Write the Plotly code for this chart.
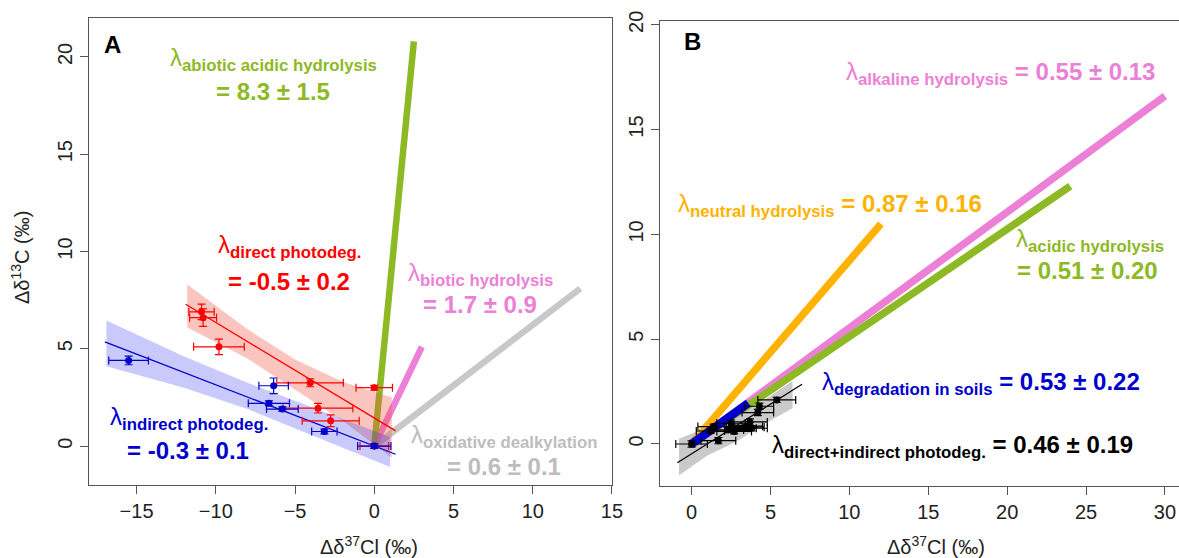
import plotly.graph_objects as go

# ---------------- Panel A data ----------------
red_x = [-10.9, -10.8, -9.8, -4.05, 0.0, -3.55, -2.75, 0.0]
red_y = [6.9, 6.6, 5.1, 3.25, 3.0, 1.95, 1.3, 0.0]
red_xerr = [0.8, 0.85, 1.6, 2.1, 1.15, 2.2, 1.8, 0.9]
red_yerr = [0.4, 0.45, 0.4, 0.2, 0.12, 0.25, 0.3, 0.1]

blue_x = [-15.5, -6.35, -6.65, -5.8, -3.15, 0.0]
blue_y = [4.4, 3.1, 2.2, 1.9, 0.75, 0.0]
blue_xerr = [1.25, 0.93, 1.3, 1.0, 0.8, 1.05]
blue_yerr = [0.22, 0.4, 0.12, 0.12, 0.12, 0.12]

red_fit_x = [-11.9, 1.35]
red_fit_y = [7.29, 0.78]
blue_fit_x = [-17.0, 1.35]
blue_fit_y = [5.35, -0.42]

red_band_x = [-11.8, -8.0, -5.0, -2.0, 1.1]
red_band_hi = [8.3, 6.0, 4.45, 3.3, 2.5]
red_band_lo = [6.1, 4.5, 2.9, 1.3, -0.6]

blue_band_x = [-16.9, -12.0, -8.0, -4.0, 1.0]
blue_band_hi = [6.45, 4.6, 3.25, 2.0, 0.47]
blue_band_lo = [4.1, 3.0, 1.9, 0.6, -1.07]

a_green_x = [0, 2.5]
a_green_y = [0, 20.8]
a_pink_x = [0, 3.0]
a_pink_y = [0, 5.1]
a_gray_x = [0, 13.0]
a_gray_y = [0, 8.1]

# ---------------- Panel B data ----------------
b_pts_x = [0.0, 1.2, 1.4, 1.7, 2.3, 2.5, 2.7, 3.1, 3.4, 3.6, 3.8, 3.7, 4.2, 4.3, 5.4]
b_pts_y = [0.0, 0.62, 0.83, 0.16, 0.67, 0.99, 0.6, 0.75, 0.8, 0.85, 0.75, 1.05, 1.5, 1.8, 2.1]
b_pts_xerr = [1.0, 0.9, 1.0, 1.1, 1.0, 0.9, 1.1, 1.0, 1.2, 0.9, 1.0, 1.1, 1.0, 0.9, 1.2]
b_pts_yerr = [0.15, 0.12, 0.12, 0.15, 0.12, 0.15, 0.12, 0.12, 0.15, 0.12, 0.12, 0.15, 0.15, 0.15, 0.12]

b_fit_x = [-0.9, 7.0]
b_fit_y = [-0.9, 2.85]
b_band_x = [-0.8, 1.0, 2.8, 4.6, 6.4]
b_band_hi = [0.25, 0.8, 1.35, 2.1, 3.0]
b_band_lo = [-1.5, -0.55, 0.1, 0.95, 1.7]

b_orange_x = [0, 12.0]
b_orange_y = [0, 10.5]
b_pink_x = [0, 30.0]
b_pink_y = [0, 16.6]
b_green_x = [0, 24.0]
b_green_y = [0, 12.3]
b_blue_x = [0, 3.6]
b_blue_y = [0, 1.95]

# ---------------- colours ----------------
GREEN = "#8DB924"
PINK = "#EC7FD6"
GRAY = "#C8C8C8"
GRAYTXT = "#BDBDBD"
ORANGE = "#FFB300"
RED = "#FF0000"
BLUE = "#0000CC"
FONT = "Liberation Sans, Arial, Helvetica, sans-serif"

fig = go.Figure()


def thick(x, y, color, width, xa="x", ya="y"):
    fig.add_trace(go.Scatter(x=x, y=y, mode="lines", xaxis=xa, yaxis=ya,
                             line=dict(color=color, width=width),
                             showlegend=False, hoverinfo="skip"))


def band(x, hi, lo, fill, xa="x", ya="y"):
    fig.add_trace(go.Scatter(x=list(x) + list(x)[::-1], y=list(hi) + list(lo)[::-1],
                             mode="lines", fill="toself", fillcolor=fill,
                             line=dict(width=0, color="rgba(0,0,0,0)"),
                             xaxis=xa, yaxis=ya, showlegend=False, hoverinfo="skip"))


def points(x, y, xe, ye, color, xa="x", ya="y"):
    fig.add_trace(go.Scatter(x=x, y=y, mode="markers", xaxis=xa, yaxis=ya,
                             marker=dict(color=color, size=7),
                             error_x=dict(type="data", array=xe, color=color, thickness=1.2, width=4),
                             error_y=dict(type="data", array=ye, color=color, thickness=1.2, width=4),
                             showlegend=False))


# Panel A
thick(a_gray_x, a_gray_y, GRAY, 6.5)
thick(a_pink_x, a_pink_y, PINK, 6.5)
thick(a_green_x, a_green_y, GREEN, 6.5)
band(red_band_x, red_band_hi, red_band_lo, "rgba(240,90,70,0.35)")
band(blue_band_x, blue_band_hi, blue_band_lo, "rgba(40,40,240,0.25)")
thick(red_fit_x, red_fit_y, RED, 1.3)
thick(blue_fit_x, blue_fit_y, BLUE, 1.3)
points(red_x, red_y, red_xerr, red_yerr, RED)
points(blue_x, blue_y, blue_xerr, blue_yerr, BLUE)

# Panel B
band(b_band_x, b_band_hi, b_band_lo, "rgba(150,150,150,0.5)", "x2", "y2")
thick(b_orange_x, b_orange_y, ORANGE, 7.5, "x2", "y2")
thick(b_pink_x, b_pink_y, PINK, 7.5, "x2", "y2")
thick(b_green_x, b_green_y, GREEN, 7.5, "x2", "y2")
thick(b_blue_x, b_blue_y, BLUE, 8.5, "x2", "y2")
thick(b_fit_x, b_fit_y, "#000000", 1.2, "x2", "y2")
points(b_pts_x, b_pts_y, b_pts_xerr, b_pts_yerr, "#000000", "x2", "y2")

axis_common = dict(showline=True, linecolor="#555555", linewidth=1, ticks="outside",
                   ticklen=8, tickcolor="#555555", showgrid=False, zeroline=False,
                   automargin=False,
                   tickfont=dict(family=FONT, size=20, color="#222222"))

fig.update_layout(
    width=1179, height=558,
    margin=dict(l=0, r=0, t=0, b=0),
    paper_bgcolor="white", plot_bgcolor="white",
    font=dict(family=FONT),
    xaxis=dict(domain=[0.07549, 0.51908], range=[-18, 15], tickvals=[-15, -10, -5, 0, 5, 10, 15],
               mirror=True, anchor="y", **axis_common),
    yaxis=dict(domain=[0.13082, 0.96774], range=[-2, 22], tickvals=[0, 5, 10, 15, 20],
               mirror=True, anchor="x", tickangle=-90, **axis_common),
    xaxis2=dict(domain=[0.5598, 1.0], range=[-2, 30.89], tickvals=[0, 5, 10, 15, 20, 25, 30],
                mirror=True, anchor="y2", **axis_common),
    yaxis2=dict(domain=[0.12921, 0.96308], range=[-2, 20.2], tickvals=[0, 5, 10, 15, 20],
                mirror=False, anchor="x2", tickangle=-90, **axis_common),
)

ann = []


def txt(x, y, text, color, size=24, xa="x", ya="y", xanchor="center", yanchor="middle", angle=0):
    ann.append(dict(x=x, y=y, xref=xa, yref=ya, text=text, showarrow=False,
                    font=dict(family=FONT, size=size, color=color),
                    xanchor=xanchor, yanchor=yanchor, textangle=angle))


# Panel A labels
txt(-16.5, 20.65, "<b>A</b>", "#000000", 24)
txt(-6.33, 19.85, "λ<sub><b>abiotic acidic hydrolysis</b></sub>", GREEN)
txt(-6.39, 18.24, "<b>= 8.3 ± 1.5</b>", GREEN)
txt(-5.38, 10.25, "λ<sub><b>direct photodeg.</b></sub>", RED)
txt(-5.41, 8.47, "<b>= -0.5 ± 0.2</b>", RED)
txt(6.70, 8.80, "λ<sub><b>biotic hydrolysis</b></sub>", PINK)
txt(6.67, 7.28, "<b>= 1.7 ± 0.9</b>", PINK)
txt(-11.69, 1.40, "λ<sub><b>indirect photodeg.</b></sub>", BLUE)
txt(-11.75, -0.22, "<b>= -0.3 ± 0.1</b>", BLUE)
txt(8.18, 0.48, "λ<sub><b>oxidative dealkylation</b></sub>", GRAYTXT)
txt(8.18, -1.04, "<b>= 0.6 ± 0.1</b>", GRAYTXT)

# Panel B labels
txt(0.03, 19.18, "<b>B</b>", "#000000", 24, "x2", "y2")
txt(9.64, 17.7, "λ<sub><b>alkaline hydrolysis</b></sub> <b>= 0.55 ± 0.13</b>", PINK, 24, "x2", "y2", "left")
txt(-1.0, 11.36, "λ<sub><b>neutral hydrolysis</b></sub> <b>= 0.87 ± 0.16</b>", ORANGE, 24, "x2", "y2", "left")
txt(20.41, 9.7, "λ<sub><b>acidic hydrolysis</b></sub>", GREEN, 24, "x2", "y2", "left")
txt(20.52, 8.28, "<b>= 0.51 ± 0.20</b>", GREEN, 24, "x2", "y2", "left")
txt(8.12, 2.9, "λ<sub><b>degradation in soils</b></sub> <b>= 0.53 ± 0.22</b>", BLUE, 24, "x2", "y2", "left")
txt(4.96, -0.12, "λ<sub><b>direct+indirect photodeg.</b></sub> <b>= 0.46 ± 0.19</b>", "#000000", 24, "x2", "y2", "left")

# Axis titles
txt(20 / 1179, 1 - 258 / 558, "Δδ<sup>13</sup>C (‰)", "#222222", 20, "paper", "paper", angle=-90)
txt(369 / 1179, 1 - 545 / 558, "Δδ<sup>37</sup>Cl (‰)", "#222222", 20, "paper", "paper")
txt(936 / 1179, 1 - 545 / 558, "Δδ<sup>37</sup>Cl (‰)", "#222222", 20, "paper", "paper")

fig.update_layout(annotations=ann)
fig.write_html("out.html", config={"displayModeBar": False},
               post_script="document.body.style.margin='0px';document.body.style.padding='0px';")
